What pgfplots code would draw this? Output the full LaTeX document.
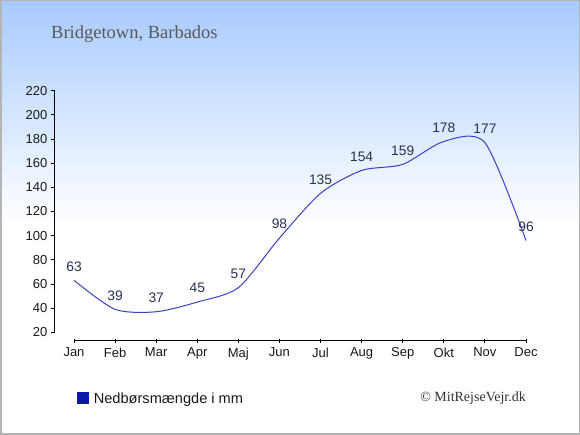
\documentclass[border=0pt]{standalone}
\usepackage{fontspec}
\setmainfont{Liberation Sans}
\newfontfamily\seriffont{Liberation Serif}
\usepackage{pgfplots}
\pgfplotsset{compat=1.18}
\definecolor{bgtop}{RGB}{168,202,255}
\definecolor{linecol}{RGB}{55,65,195}
\definecolor{labcol}{RGB}{35,50,85}
\definecolor{legcol}{RGB}{10,25,170}
\definecolor{bordcol}{RGB}{180,180,180}
\begin{document}
\begin{tikzpicture}
\useasboundingbox (0,0) rectangle (580pt,435pt);
\fill[white] (0,0) rectangle (580pt,435pt);
\shade[top color=bgtop, bottom color=white] (0,212pt) rectangle (580pt,435pt);
\draw[bordcol, line width=1.5pt] (0.75pt,0.75pt) rectangle (579.25pt,434.25pt);
\node[anchor=base west, font=\seriffont\fontsize{18.5}{22}\selectfont, text=black!65, inner sep=0pt] at (51pt,396.7pt) {Bridgetown, Barbados};
\node[anchor=base east, font=\seriffont\fontsize{14}{16}\selectfont, text=black!80, inner sep=0pt] at (526pt,33.3pt) {© MitRejseVejr.dk};
\begin{axis}[
  at={(54.7pt,102.7pt)}, anchor=south west,
  width=471.3pt, height=241.6pt, scale only axis,
  xmin=-0.47, xmax=11, ymin=20, ymax=220,
  axis x line=none, axis y line=left,
  axis line style={-, black, line width=0.9pt},
  ytick={20,40,...,220}, tick align=outside, major tick length=3.7pt,
  tick style={black, line width=0.9pt},
  /pgf/number format/assume math mode=true,
  yticklabel style={font=\fontsize{13}{15}\selectfont, text=black!90, inner sep=0pt, xshift=-3.5pt},
  clip=false,
  nodes near coords,
  nodes near coords style={font=\fontsize{13.8}{15}\selectfont, text=labcol, anchor=south, inner sep=0pt, yshift=8.5pt},
  legend style={at={(0.0473,-0.276)}, anchor=west, draw=none, fill=none, inner sep=0pt,
    font=\fontsize{14.6}{17}\selectfont, text=black!90,
    /tikz/every odd column/.append style={column sep=3pt}},
  legend cell align=left,
  legend image code/.code={\fill[legcol] (0pt,-4.2pt) rectangle (10.6pt,6.4pt);},
]
\addplot[linecol, line width=1pt, smooth, tension=0.45, mark=none] coordinates {
(0,63) (1,39) (2,37) (3,45) (4,57) (5,98) (6,135) (7,154) (8,159) (9,178) (10,177) (11,96)
};
\addlegendentry{Nedbørsmængde i mm}
\end{axis}
\begin{axis}[
  at={(74pt,94.3pt)}, anchor=south west,
  width=452pt, height=10pt, scale only axis,
  xmin=0, xmax=11, ymin=0, ymax=1,
  axis x line=bottom, axis y line=none,
  axis line style={-, black, line width=0.9pt},
  xtick={0,...,11},
  xticklabels={Jan,Feb,Mar,Apr,Maj,Jun,Jul,Aug,Sep,Okt,Nov,Dec},
  tick align=center, major tick length=4pt,
  tick style={black, line width=0.9pt},
  xticklabel style={font=\fontsize{13}{15}\selectfont, text=black!90, inner sep=0pt, yshift=-5pt},
]
\addplot[draw=none] coordinates {(0,0)};
\end{axis}
\end{tikzpicture}
\end{document}
